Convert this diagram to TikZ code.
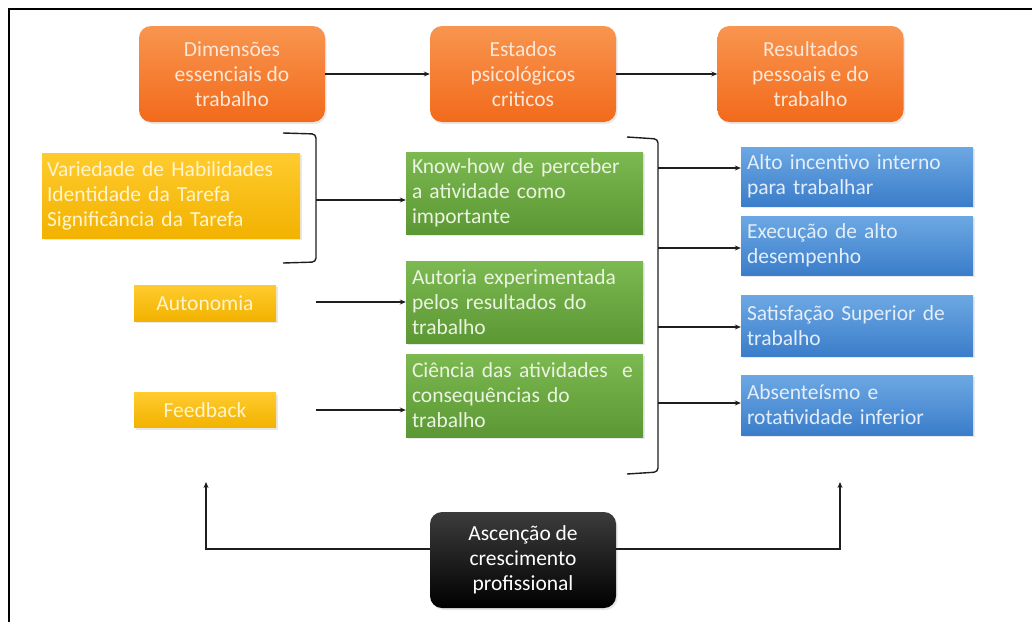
\documentclass[tikz,border=0pt]{standalone}
\usepackage{fontspec}
\setmainfont{Carlito}
\usetikzlibrary{arrows.meta,shadows}
\definecolor{ortop}{HTML}{F8954F}
\definecolor{orbot}{HTML}{F26A1B}
\definecolor{ortxt}{HTML}{FDE6D6}
\definecolor{yetop}{HTML}{FFCB2E}
\definecolor{yebot}{HTML}{F2B200}
\definecolor{yetxt}{HTML}{FFF4CC}
\definecolor{grtop}{HTML}{7DB951}
\definecolor{grbot}{HTML}{5B9733}
\definecolor{grtxt}{HTML}{EAF4E0}
\definecolor{bltop}{HTML}{6CA8E3}
\definecolor{blbot}{HTML}{3B7DCA}
\definecolor{bltxt}{HTML}{E4EEFA}
\definecolor{bktop}{HTML}{3C3C3C}
\definecolor{bkbot}{HTML}{000000}
\definecolor{lnc}{HTML}{1E1E1E}
\tikzset{
  boxbase/.style={font=\fontsize{21.5}{25}\selectfont, inner sep=0pt,
    drop shadow={opacity=0.18, shadow xshift=1.5pt, shadow yshift=-2pt}},
  orbox/.style={boxbase, rounded corners=12pt, top color=ortop, bottom color=orbot,
    text=ortxt, align=center, minimum width=186pt, minimum height=96pt},
  yebox/.style={boxbase, top color=yetop, bottom color=yebot, text=yetxt},
  grbox/.style={boxbase, top color=grtop, bottom color=grbot, text=grtxt,
    align=left, text width=225pt, minimum width=237pt, inner xsep=6pt},
  blbox/.style={boxbase, top color=bltop, bottom color=blbot, text=bltxt,
    align=left, text width=220pt, minimum width=232pt, inner xsep=6pt},
  bkbox/.style={boxbase, rounded corners=12pt, top color=bktop, bottom color=bkbot,
    text=white, align=center, minimum width=186pt, minimum height=96pt},
  conn/.style={draw=lnc, line width=1.4pt, -{Stealth[length=6pt,width=5pt]}},
  brk/.style={draw=lnc, line width=1.4pt, rounded corners=4pt}
}
\begin{document}
\begin{tikzpicture}[x=1pt,y=-1pt]
\useasboundingbox (0,0) rectangle (1032,621);
\clip (0,0) rectangle (1032,621);
\fill[white] (0,0) rectangle (1032,621);
\draw[line width=2pt] (9,9) rectangle (1050,650);

% top row
\node[orbox] (o1) at (232,74) {Dimensões\\essenciais do\\trabalho};
\node[orbox] (o2) at (523,74) {Estados\\psicológicos\\criticos};
\node[orbox] (o3) at (810.5,74) {Resultados\\pessoais e do\\trabalho};
\draw[conn] (o1.east) -- (o2.west);
\draw[conn] (o2.east) -- (o3.west);

% yellow
\node[yebox, align=left, text width=248pt, minimum width=258pt, minimum height=85pt, inner xsep=5pt] (y1) at (171,195.5)
  {Variedade de Habilidades\\Identidade da Tarefa\\Significância da Tarefa};
\node[yebox, align=center, minimum width=142pt, minimum height=36pt] (y2) at (205,303) {Autonomia};
\node[yebox, align=center, minimum width=142pt, minimum height=35pt] (y3) at (205,410) {Feedback};

% green
\node[grbox, minimum height=82pt] (g1) at (524.5,193) {Know-how de perceber\\a atividade como\\importante};
\node[grbox, minimum height=82pt] (g2) at (524.5,302) {Autoria experimentada\\pelos resultados do\\trabalho};
\node[grbox, minimum height=83pt] (g3) at (524.5,395.5) {Ciência das atividades~ e\\consequências do\\trabalho};

% blue
\node[blbox, minimum height=59pt] (b1) at (857,176.5) {Alto incentivo interno\\para trabalhar};
\node[blbox, minimum height=59pt] (b2) at (857,245.5) {Execução de alto\\desempenho};
\node[blbox, minimum height=61pt] (b3) at (857,325.5) {Satisfação Superior de\\trabalho};
\node[blbox, minimum height=60pt] (b4) at (857,405) {Absenteísmo e\\rotatividade inferior};

% black
\node[bkbox] (k) at (523,560) {Ascenção de\\crescimento\\profissional};

% left bracket
\coordinate (lbt) at (283,133);
\coordinate (lbb) at (283,263);
\coordinate (lbm) at (316,200);
\draw[brk] (lbt) -- (316,134) -- (316,262) -- (lbb);
\draw[conn] (lbm) -- (g1.west |- lbm);
\coordinate (am) at (316,302);
\draw[conn] (am) -- (g2.west |- am);
\coordinate (fm) at (316,410);
\draw[conn] (fm) -- (g3.west |- fm);

% right bracket
\coordinate (rbt) at (627,137);
\coordinate (rbb) at (627,474);
\draw[brk] (rbt) -- (658,139) -- (658,472) -- (rbb);
\coordinate (r1) at (658,168);
\coordinate (r2) at (658,248);
\coordinate (r3) at (658,327);
\coordinate (r4) at (658,403);
\draw[conn] (r1) -- (b1.west |- r1);
\draw[conn] (r2) -- (b2.west |- r2);
\draw[conn] (r3) -- (b3.west |- r3);
\draw[conn] (r4) -- (b4.west |- r4);

% feedback loop
\coordinate (fbL) at (206,482);
\coordinate (fbR) at (840,482);
\draw[conn, line width=1.2pt] ([yshift=11pt]k.west) -| (fbL);
\draw[conn, line width=1.2pt] ([yshift=11pt]k.east) -| (fbR);
\end{tikzpicture}
\end{document}
